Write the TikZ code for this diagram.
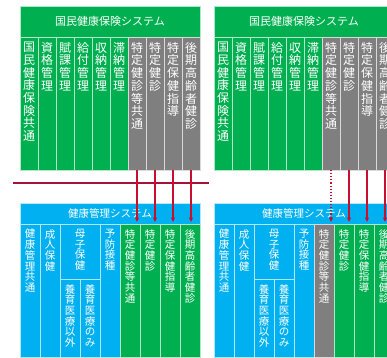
\documentclass[tikz,border=0pt]{standalone}
\usepackage{fontspec}
\newfontfamily\cjk{Noto Sans CJK JP}
\usetikzlibrary{arrows.meta}

\definecolor{kgreen}{HTML}{00B050}
\definecolor{kblue}{HTML}{00B0F0}
\definecolor{kgray}{HTML}{7F7F7F}
\definecolor{kred}{HTML}{C8102E}
\definecolor{kline}{HTML}{A8123A}

% one character per line
\newcommand\vt[1]{\vtloop#1\relax}
\def\vtloop#1{\ifx\relax#1\else#1\par\expandafter\vtloop\fi}

\tikzset{
    box/.style = {
        rectangle,
        anchor=north west,
        inner sep=0pt,
        outer sep=0pt,
        fill=#1,
        draw=white!70!#1,
        line width=0.7pt
    },
    head/.style = {
        box=#1,
        minimum width=180pt,
        text=white
    },
    tcol/.style = {
        box=#1,
        minimum width=18pt,
        minimum height=133pt
    },
    bcol/.style = {
        box=#1,
        minimum width=20pt,
        minimum height=133pt
    },
    ttxt/.style = {
        anchor=north,
        yshift=-5pt,
        inner sep=0pt,
        text=white,
        text width=13pt,
        align=center,
        font=\cjk\fontsize{12}{12.7}\selectfont
    },
    btxt/.style = {
        anchor=north,
        yshift=-5pt,
        inner sep=0pt,
        text=white,
        text width=12pt,
        align=center,
        font=\cjk\fontsize{10.5}{10.7}\selectfont
    },
    flow/.style = {
        kred,
        line width=1.1pt,
        -{Triangle[length=4.5pt,width=4pt]},
        shorten >=2pt
    },
    divider/.style = {
        kline,
        line width=2pt
    }
}

\begin{document}
\begin{tikzpicture}[x=1pt,y=-1pt]
    \clip (0,0) rectangle (387,357);

    % Left: old system
    \node[head=kgreen, minimum height=31pt, font=\cjk\fontsize{11}{12}\selectfont] (Lkoku) at (20,6) {国民健康保険システム};
    \node[tcol=kgreen, label={[ttxt]north:\vt{国民健康保険共通}}] (Lk1) at (20,37) {};
    \node[tcol=kgreen, label={[ttxt]north:\vt{資格管理}}] (Lk2) at (38,37) {};
    \node[tcol=kgreen, label={[ttxt]north:\vt{賦課管理}}] (Lk3) at (56,37) {};
    \node[tcol=kgreen, label={[ttxt]north:\vt{給付管理}}] (Lk4) at (74,37) {};
    \node[tcol=kgreen, label={[ttxt]north:\vt{収納管理}}] (Lk5) at (92,37) {};
    \node[tcol=kgreen, label={[ttxt]north:\vt{滞納管理}}] (Lk6) at (110,37) {};
    \node[tcol=kgray, label={[ttxt]north:\vt{特定健診等共通}}] (Lk7) at (128,37) {};
    \node[tcol=kgray, label={[ttxt]north:\vt{特定健診}}] (Lk8) at (146,37) {};
    \node[tcol=kgray, label={[ttxt]north:\vt{特定保健指導}}] (Lk9) at (164,37) {};
    \node[tcol=kgray, label={[ttxt]north:\vt{後期高齢者健診}}] (Lk10) at (182,37) {};

    \node[head=kblue, minimum height=21pt, font=\cjk\fontsize{10.5}{12}\selectfont] (Lken) at (20,203) {健康管理システム};
    \node[bcol=kblue, label={[btxt]north:\vt{健康管理共通}}] (Lb1) at (20,224) {};
    \node[bcol=kblue, label={[btxt]north:\vt{成人保健}}] (Lb2) at (40,224) {};
    \node[box=kblue, minimum width=40pt, minimum height=55pt, label={[btxt]north:\vt{母子保健}}] (Lb3) at (60,224) {};
    \node[box=kblue, minimum width=20pt, minimum height=78pt, label={[btxt]north:\vt{養育医療以外}}] (Lb3a) at (60,279) {};
    \node[box=kblue, minimum width=20pt, minimum height=78pt, label={[btxt]north:\vt{養育医療のみ}}] (Lb3b) at (80,279) {};
    \node[bcol=kblue, label={[btxt]north:\vt{予防接種}}] (Lb4) at (100,224) {};
    \node[bcol=kgreen, label={[btxt]north:\vt{特定健診等共通}}] (Lb5) at (120,224) {};
    \node[bcol=kgreen, label={[btxt]north:\vt{特定健診}}] (Lb6) at (140,224) {};
    \node[bcol=kgreen, label={[btxt]north:\vt{特定保健指導}}] (Lb7) at (160,224) {};
    \node[bcol=kgreen, label={[btxt]north:\vt{後期高齢者健診}}] (Lb8) at (180,224) {};

    \draw[divider] (13,183) -- (209,183);

    \draw[flow] (Lk7.south) -- (Lk7.south |- Lken.south);
    \draw[flow] (Lk8.south) -- (Lk8.south |- Lken.south);
    \draw[flow] (Lk9.south) -- (Lk9.south |- Lken.south);
    \draw[flow] (Lk10.south) -- (Lk10.south |- Lken.south);

    % Right: new system
    \begin{scope}[xshift=194pt]
    \node[head=kgreen, minimum height=31pt, font=\cjk\fontsize{11}{12}\selectfont] (Rkoku) at (20,6) {国民健康保険システム};
    \node[tcol=kgreen, label={[ttxt]north:\vt{国民健康保険共通}}] (Rk1) at (20,37) {};
    \node[tcol=kgreen, label={[ttxt]north:\vt{資格管理}}] (Rk2) at (38,37) {};
    \node[tcol=kgreen, label={[ttxt]north:\vt{賦課管理}}] (Rk3) at (56,37) {};
    \node[tcol=kgreen, label={[ttxt]north:\vt{給付管理}}] (Rk4) at (74,37) {};
    \node[tcol=kgreen, label={[ttxt]north:\vt{収納管理}}] (Rk5) at (92,37) {};
    \node[tcol=kgreen, label={[ttxt]north:\vt{滞納管理}}] (Rk6) at (110,37) {};
    \node[tcol=kgray, label={[ttxt]north:\vt{特定健診等共通}}] (Rk7) at (128,37) {};
    \node[tcol=kgray, label={[ttxt]north:\vt{特定健診}}] (Rk8) at (146,37) {};
    \node[tcol=kgray, label={[ttxt]north:\vt{特定保健指導}}] (Rk9) at (164,37) {};
    \node[tcol=kgray, label={[ttxt]north:\vt{後期高齢者健診}}] (Rk10) at (182,37) {};

    \node[head=kblue, minimum height=21pt, font=\cjk\fontsize{10.5}{12}\selectfont] (Rken) at (20,203) {健康管理システム};
    \node[bcol=kblue, label={[btxt]north:\vt{健康管理共通}}] (Rb1) at (20,224) {};
    \node[bcol=kblue, label={[btxt]north:\vt{成人保健}}] (Rb2) at (40,224) {};
    \node[box=kblue, minimum width=40pt, minimum height=55pt, label={[btxt]north:\vt{母子保健}}] (Rb3) at (60,224) {};
    \node[box=kblue, minimum width=20pt, minimum height=78pt, label={[btxt]north:\vt{養育医療以外}}] (Rb3a) at (60,279) {};
    \node[box=kblue, minimum width=20pt, minimum height=78pt, label={[btxt]north:\vt{養育医療のみ}}] (Rb3b) at (80,279) {};
    \node[bcol=kblue, label={[btxt]north:\vt{予防接種}}] (Rb4) at (100,224) {};
    \node[bcol=kgray, label={[btxt]north:\vt{特定健診等共通}}] (Rb5) at (120,224) {};
    \node[bcol=kgreen, label={[btxt]north:\vt{特定健診}}] (Rb6) at (140,224) {};
    \node[bcol=kgreen, label={[btxt]north:\vt{特定保健指導}}] (Rb7) at (160,224) {};
    \node[bcol=kgreen, label={[btxt]north:\vt{後期高齢者健診}}] (Rb8) at (180,224) {};

    \draw[flow, dotted] (Rk7.south) -- (Rk7.south |- Rken.south);
    \draw[flow] (Rk8.south) -- (Rk8.south |- Rken.south);
    \draw[flow] (Rk9.south) -- (Rk9.south |- Rken.south);
    \draw[flow] (Rk10.south) -- (Rk10.south |- Rken.south);
    \end{scope}
\end{tikzpicture}
\end{document}
